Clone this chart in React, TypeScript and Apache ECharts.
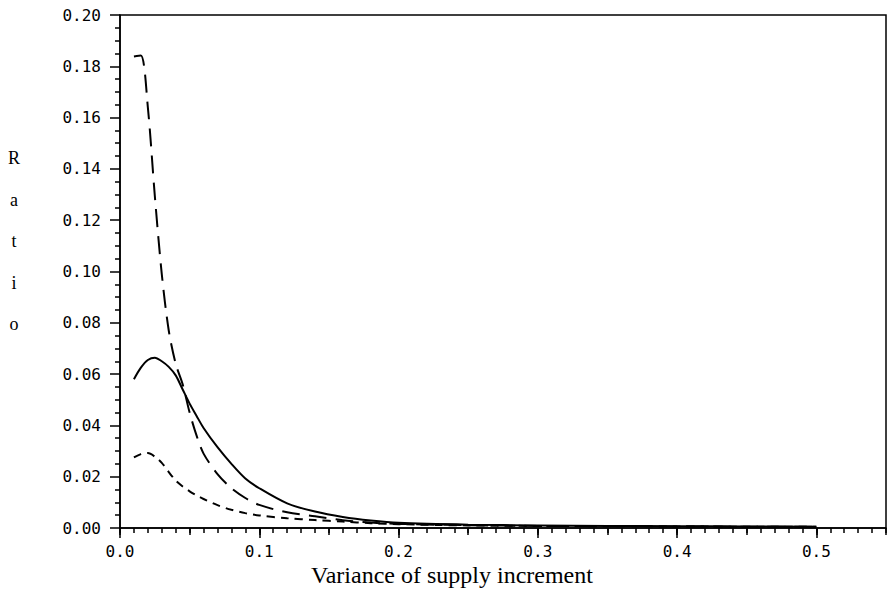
import React, { useEffect, useRef } from "react";
import * as echarts from "echarts";

const xValues = [0.01, 0.015, 0.02, 0.025, 0.03, 0.035, 0.04, 0.045, 0.05, 0.055, 0.06, 0.07, 0.08, 0.09, 0.1, 0.12, 0.14, 0.16, 0.18, 0.2, 0.25, 0.3, 0.35, 0.4, 0.45, 0.5];

const solidRatio = [0.058, 0.0625, 0.0655, 0.0664, 0.065, 0.0628, 0.0595, 0.054, 0.0485, 0.0437, 0.039, 0.0315, 0.025, 0.0193, 0.0155, 0.0096, 0.0064, 0.0043, 0.0029, 0.002, 0.0013, 0.001, 0.0008, 0.0007, 0.0006, 0.0005];

const longDashRatio = [0.1838, 0.1842, 0.164, 0.1295, 0.099, 0.077, 0.064, 0.056, 0.045, 0.036, 0.029, 0.021, 0.0155, 0.0117, 0.009, 0.0061, 0.0046, 0.003, 0.0021, 0.0016, 0.0011, 0.0008, 0.0007, 0.0006, 0.0005, 0.0005];

const shortDashRatio = [0.0275, 0.0288, 0.0292, 0.0278, 0.0254, 0.0218, 0.0185, 0.0162, 0.0143, 0.0127, 0.0113, 0.0089, 0.0071, 0.0058, 0.0049, 0.0038, 0.0031, 0.0025, 0.0019, 0.0015, 0.001, 0.0008, 0.0007, 0.0006, 0.0005, 0.0005];

const yLabelLetters = ["R", "a", "t", "i", "o"];
const xTitle = "Variance of supply increment";

const monoFont = "'DejaVu Sans Mono', monospace";
const serifFont = "'Liberation Serif', 'DejaVu Serif', serif";

export default function App() {
  const ref = useRef<HTMLDivElement>(null);
  useEffect(() => {
    if (!ref.current) return;
    const chart = echarts.init(ref.current, null, { renderer: "svg" });
    const pair = (ys: number[]) => xValues.map((x, i) => [x, ys[i]]);
    const lineCommon = { type: "line", smooth: 0.3, showSymbol: false, symbol: "none", xAxisIndex: 0, yAxisIndex: 0 } as any;
    const hiddenX = (interval: number, len: number) => ({
      type: "value",
      min: 0,
      max: 0.55,
      interval,
      position: "bottom",
      axisLine: { show: false },
      axisTick: { show: true, length: len, lineStyle: { color: "#000", width: 1.5 } },
      axisLabel: { show: false },
      splitLine: { show: false },
    });
    chart.setOption({
      animation: false,
      backgroundColor: "#fff",
      grid: { left: 120, right: 9, top: 15, bottom: 64, show: true, borderColor: "#000", borderWidth: 1.5, backgroundColor: "transparent" },
      xAxis: [
        {
          type: "value",
          min: 0,
          max: 0.55,
          interval: 0.1,
          position: "bottom",
          axisLine: { show: true, lineStyle: { color: "#000", width: 1.5 } },
          axisTick: { show: true, length: 10, lineStyle: { color: "#000", width: 1.5 } },
          axisLabel: { color: "#000", fontFamily: monoFont, fontSize: 16, margin: 15, showMaxLabel: false, formatter: (v: number) => (v > 0.52 ? "" : v.toFixed(1)) },
          splitLine: { show: false },
        },
        hiddenX(0.01, 5),
        hiddenX(0.05, 7),
      ],
      yAxis: {
        type: "value",
        min: 0,
        max: 0.2,
        interval: 0.02,
        axisLine: { show: true, lineStyle: { color: "#000", width: 1.5 } },
        axisTick: { show: true, length: 10, lineStyle: { color: "#000", width: 1.5 } },
        minorTick: { show: true, splitNumber: 4, length: 5, lineStyle: { color: "#000", width: 1.5 } },
        axisLabel: { color: "#000", fontFamily: monoFont, fontSize: 16, margin: 19, formatter: (v: number) => v.toFixed(2) },
        splitLine: { show: false },
      },
      graphic: [
        ...yLabelLetters.map((ch, i) => ({
          type: "text",
          x: 14,
          y: 158 + i * 41.5,
          style: { text: ch, fontFamily: serifFont, fontSize: 18, fill: "#000", textAlign: "center", textVerticalAlign: "middle" },
        })),
        {
          type: "text",
          x: 452,
          y: 575,
          style: { text: xTitle, fontFamily: serifFont, fontSize: 24, fill: "#000", textAlign: "center", textVerticalAlign: "middle" },
        },
      ],
      series: [
        { ...lineCommon, name: "solid", data: pair(solidRatio), lineStyle: { color: "#000", width: 2, type: "solid" } },
        { ...lineCommon, name: "long dash", data: pair(longDashRatio), lineStyle: { color: "#000", width: 2, type: [18, 9] } },
        { ...lineCommon, name: "short dash", data: pair(shortDashRatio), lineStyle: { color: "#000", width: 2, type: [8, 6] } },
      ],
    });
    return () => chart.dispose();
  }, []);
  return <div ref={ref} style={{ position: "fixed", left: 0, top: 0, width: 895, height: 592 }} />;
}
